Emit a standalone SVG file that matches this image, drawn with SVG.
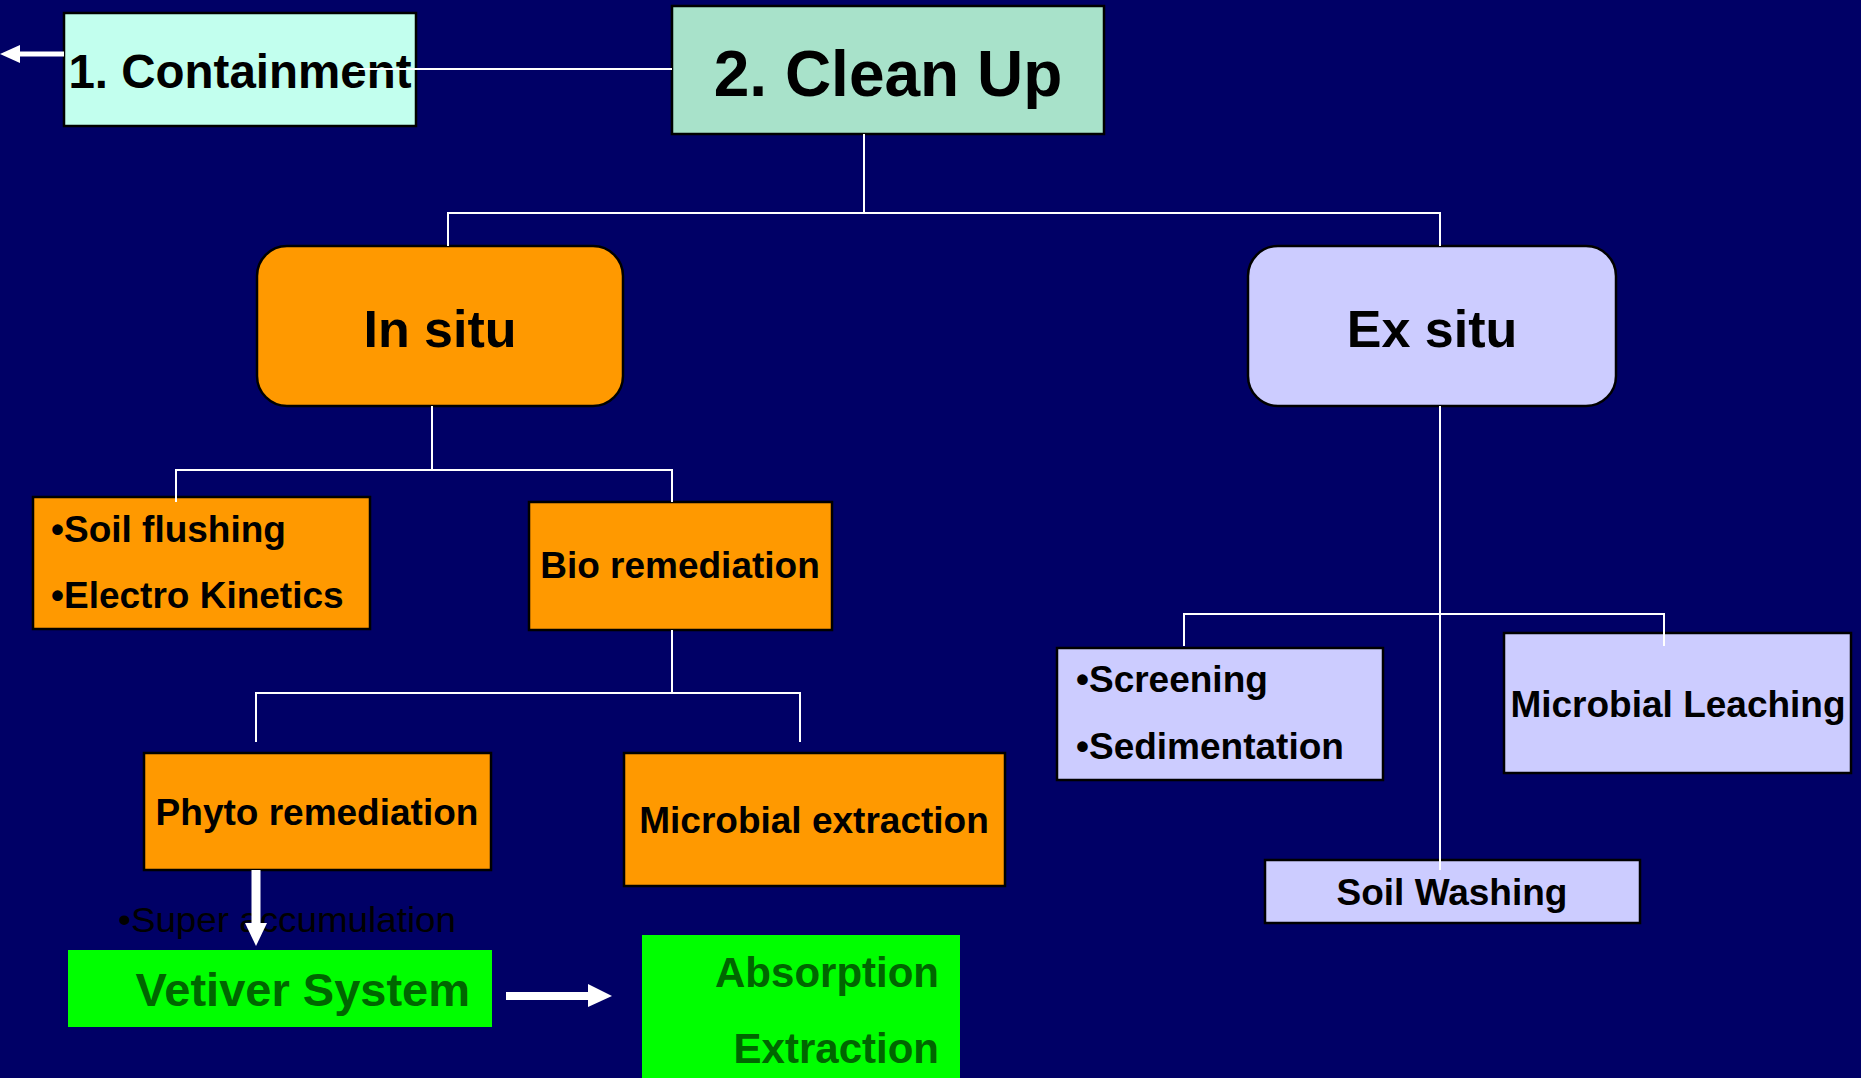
<svg xmlns="http://www.w3.org/2000/svg" width="1861" height="1078" viewBox="0 0 1861 1078">
<style>
  .bg { fill: #000066; }
  .box { stroke: #000000; stroke-width: 2.5; }
  .orange { fill: #FF9900; }
  .lav { fill: #CCCCFF; }
  .green { fill: #00FF00; }
  .t { font-family: "Liberation Sans", Arial, sans-serif; font-weight: bold; fill: #000000; }
  .c { text-anchor: middle; }
  .gt { font-family: "Liberation Sans", Arial, sans-serif; font-weight: bold; fill: #006600; text-anchor: end; }
  .conn { stroke: #FFFFFF; stroke-width: 2; fill: none; }
  .arrow { fill: #FFFFFF; }
</style>
<rect class="bg" x="0" y="0" width="1861" height="1078"/>

<g id="containment">
  <rect class="box" x="64" y="13" width="352" height="113" fill="#C2FFEE"/>
  <text class="t c" x="240" y="88" font-size="47.5">1. Containment</text>
</g>
<g id="cleanup">
  <rect class="box" x="672" y="6" width="432" height="128" fill="#A8E2CA"/>
  <text class="t c" x="888" y="96" font-size="64">2. Clean Up</text>
</g>
<g id="insitu">
  <rect class="box" x="257" y="246" width="366" height="160" rx="30" ry="30" fill="#FF9900"/>
  <text class="t c" x="440" y="347" font-size="52">In situ</text>
</g>
<g id="exsitu">
  <rect class="box" x="1248" y="246" width="368" height="160" rx="30" ry="30" fill="#CCCCFF"/>
  <text class="t c" x="1432" y="347" font-size="52">Ex situ</text>
</g>
<g id="soilflushing">
  <rect class="box orange" x="33" y="497" width="337" height="132"/>
  <text class="t" x="51" y="542" font-size="37">•Soil flushing</text>
  <text class="t" x="51" y="608" font-size="37">•Electro Kinetics</text>
</g>
<g id="bioremediation">
  <rect class="box orange" x="529" y="502" width="303" height="128"/>
  <text class="t c" x="680" y="578" font-size="37">Bio remediation</text>
</g>
<g id="phytoremediation">
  <rect class="box orange" x="144" y="753" width="347" height="117"/>
  <text class="t c" x="317" y="825" font-size="37">Phyto remediation</text>
</g>
<g id="microbialextraction">
  <rect class="box orange" x="624" y="753" width="381" height="133"/>
  <text class="t c" x="814" y="833" font-size="37">Microbial extraction</text>
</g>
<g id="screening">
  <rect class="box lav" x="1057" y="648" width="326" height="132"/>
  <text class="t" x="1076" y="692" font-size="37">•Screening</text>
  <text class="t" x="1076" y="759" font-size="37">•Sedimentation</text>
</g>
<g id="microbialleaching">
  <rect class="box lav" x="1504" y="633" width="347" height="140"/>
  <text class="t c" x="1678" y="717" font-size="37">Microbial Leaching</text>
</g>
<g id="soilwashing">
  <rect class="box lav" x="1265" y="860" width="375" height="63"/>
  <text class="t c" x="1452" y="905" font-size="37">Soil Washing</text>
</g>
<g id="superaccumulation">
  <text x="118" y="932" font-size="35" font-family="Liberation Sans, Arial, sans-serif" fill="#000000" textLength="338" lengthAdjust="spacingAndGlyphs">•Super accumulation</text>
</g>
<g id="vetiver">
  <rect class="green" x="68" y="950" width="424" height="77"/>
  <text class="gt" x="470" y="1006" font-size="47">Vetiver System</text>
</g>
<g id="absorption">
  <rect class="green" x="642" y="935" width="318" height="143"/>
  <text class="gt" x="939" y="987" font-size="42">Absorption</text>
  <text class="gt" x="939" y="1063" font-size="42">Extraction</text>
</g>

<g id="connectors">
  <line class="conn" x1="357" y1="69" x2="672" y2="69"/>
  <polyline class="conn" points="864,134 864,213"/>
  <polyline class="conn" points="448,246 448,213 1440,213 1440,246"/>
  <polyline class="conn" points="432,406 432,470"/>
  <polyline class="conn" points="176,502 176,470 672,470 672,502"/>
  <polyline class="conn" points="672,630 672,693"/>
  <polyline class="conn" points="256,742 256,693 800,693 800,742"/>
  <polyline class="conn" points="1440,406 1440,870"/>
  <polyline class="conn" points="1184,646 1184,614 1664,614 1664,646"/>
  <rect class="arrow" x="19" y="51.5" width="45" height="5"/>
  <polygon class="arrow" points="0,54 20,45 20,63"/>
  <rect class="arrow" x="251.5" y="870" width="9" height="54"/>
  <polygon class="arrow" points="245,923 267,923 256,946"/>
  <rect class="arrow" x="506" y="992" width="83" height="8"/>
  <polygon class="arrow" points="588,984 588,1007 612,996"/>
</g>
</svg>
